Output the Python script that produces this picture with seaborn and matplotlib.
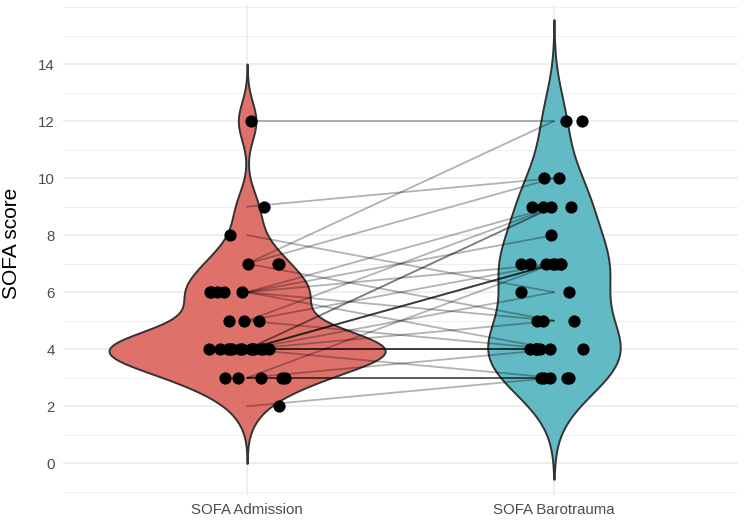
import numpy as np
import pandas as pd
import matplotlib
matplotlib.use("Agg")
import matplotlib.pyplot as plt
from matplotlib.ticker import FixedLocator
import seaborn as sns

# ---- data ----
categories = ["SOFA Admission", "SOFA Barotrauma"]
sofa_admission = [12, 9, 8, 7, 7, 7, 6, 6, 6, 6, 6, 5, 5, 5,
                  4, 4, 4, 4, 4, 4, 4, 4, 4, 4, 4, 4, 4,
                  3, 3, 3, 3, 3, 2]
sofa_barotrauma = [12, 10, 6, 12, 10, 5, 9, 7, 8, 4, 5, 9, 4, 7,
                   4, 4, 4, 4, 7, 7, 7, 7, 9, 9, 5, 3, 6,
                   3, 3, 3, 7, 4, 3]
fill_colors = ["#DF716B", "#62BBC4"]
y_major = [0, 2, 4, 6, 8, 10, 12, 14]
y_minor = [-1, 1, 3, 5, 7, 9, 11, 13, 15, 16]

n = len(sofa_admission)
df = pd.DataFrame({
    "id": list(range(n)) * 2,
    "group": [categories[0]] * n + [categories[1]] * n,
    "score": sofa_admission + sofa_barotrauma,
})
df["pos"] = df["group"].map({c: i for i, c in enumerate(categories)})


def nrd0(kde):
    x = np.asarray(kde.dataset).ravel()
    sd = np.std(x, ddof=1)
    q1, q3 = np.percentile(x, [25, 75])
    lo = min(sd, (q3 - q1) / 1.34)
    bw = 0.9 * lo * len(x) ** (-0.2)
    return bw / sd


sns.set_style("white")
plt.rcParams["font.family"] = ["Liberation Sans", "DejaVu Sans"]

fig = plt.figure(figsize=(7.44, 5.27), dpi=100)
ax = fig.add_axes([0.0847, 0.0607, 0.9073, 0.9298])

ax.set_axisbelow(True)

sns.violinplot(data=df, x="group", y="score", hue="group", order=categories,
               hue_order=categories, palette=fill_colors, width=0.9, cut=3,
               bw_method=nrd0, density_norm="area", common_norm=True,
               inner=None, gridsize=600,
               linewidth=1.4, linecolor="#333333", saturation=1, legend=False,
               ax=ax)

sns.lineplot(data=df, x="pos", y="score", units="id", estimator=None,
             color="black", alpha=0.3, linewidth=1.3, legend=False, ax=ax)

np.random.seed(3)
sns.stripplot(data=df, x="group", y="score", order=categories, color="black",
              size=8.8, linewidth=0, jitter=0.13, ax=ax, zorder=5)

ax.set_xlim(-0.6, 1.6)
ax.set_ylim(-1.11, 16.07)
ax.set_xticks([0, 1])
ax.set_xticklabels(categories)
ax.yaxis.set_major_locator(FixedLocator(y_major))
ax.yaxis.set_minor_locator(FixedLocator(y_minor))

ax.grid(which="major", axis="both", color="#EBEBEB", linewidth=1.1)
ax.grid(which="minor", axis="y", color="#EBEBEB", linewidth=0.55)
for s in ax.spines.values():
    s.set_visible(False)

ax.tick_params(axis="both", which="both", length=0, labelcolor="#4D4D4D",
               labelsize=10.8)
ax.tick_params(axis="y", pad=6)
ax.tick_params(axis="x", pad=6)
ax.set_xlabel("")
ax.set_ylabel("SOFA score", fontsize=15, color="black")
ax.yaxis.set_label_coords(-0.062, (7.72 + 1.11) / (16.07 + 1.11))

fig.savefig("out.png", dpi=100)
